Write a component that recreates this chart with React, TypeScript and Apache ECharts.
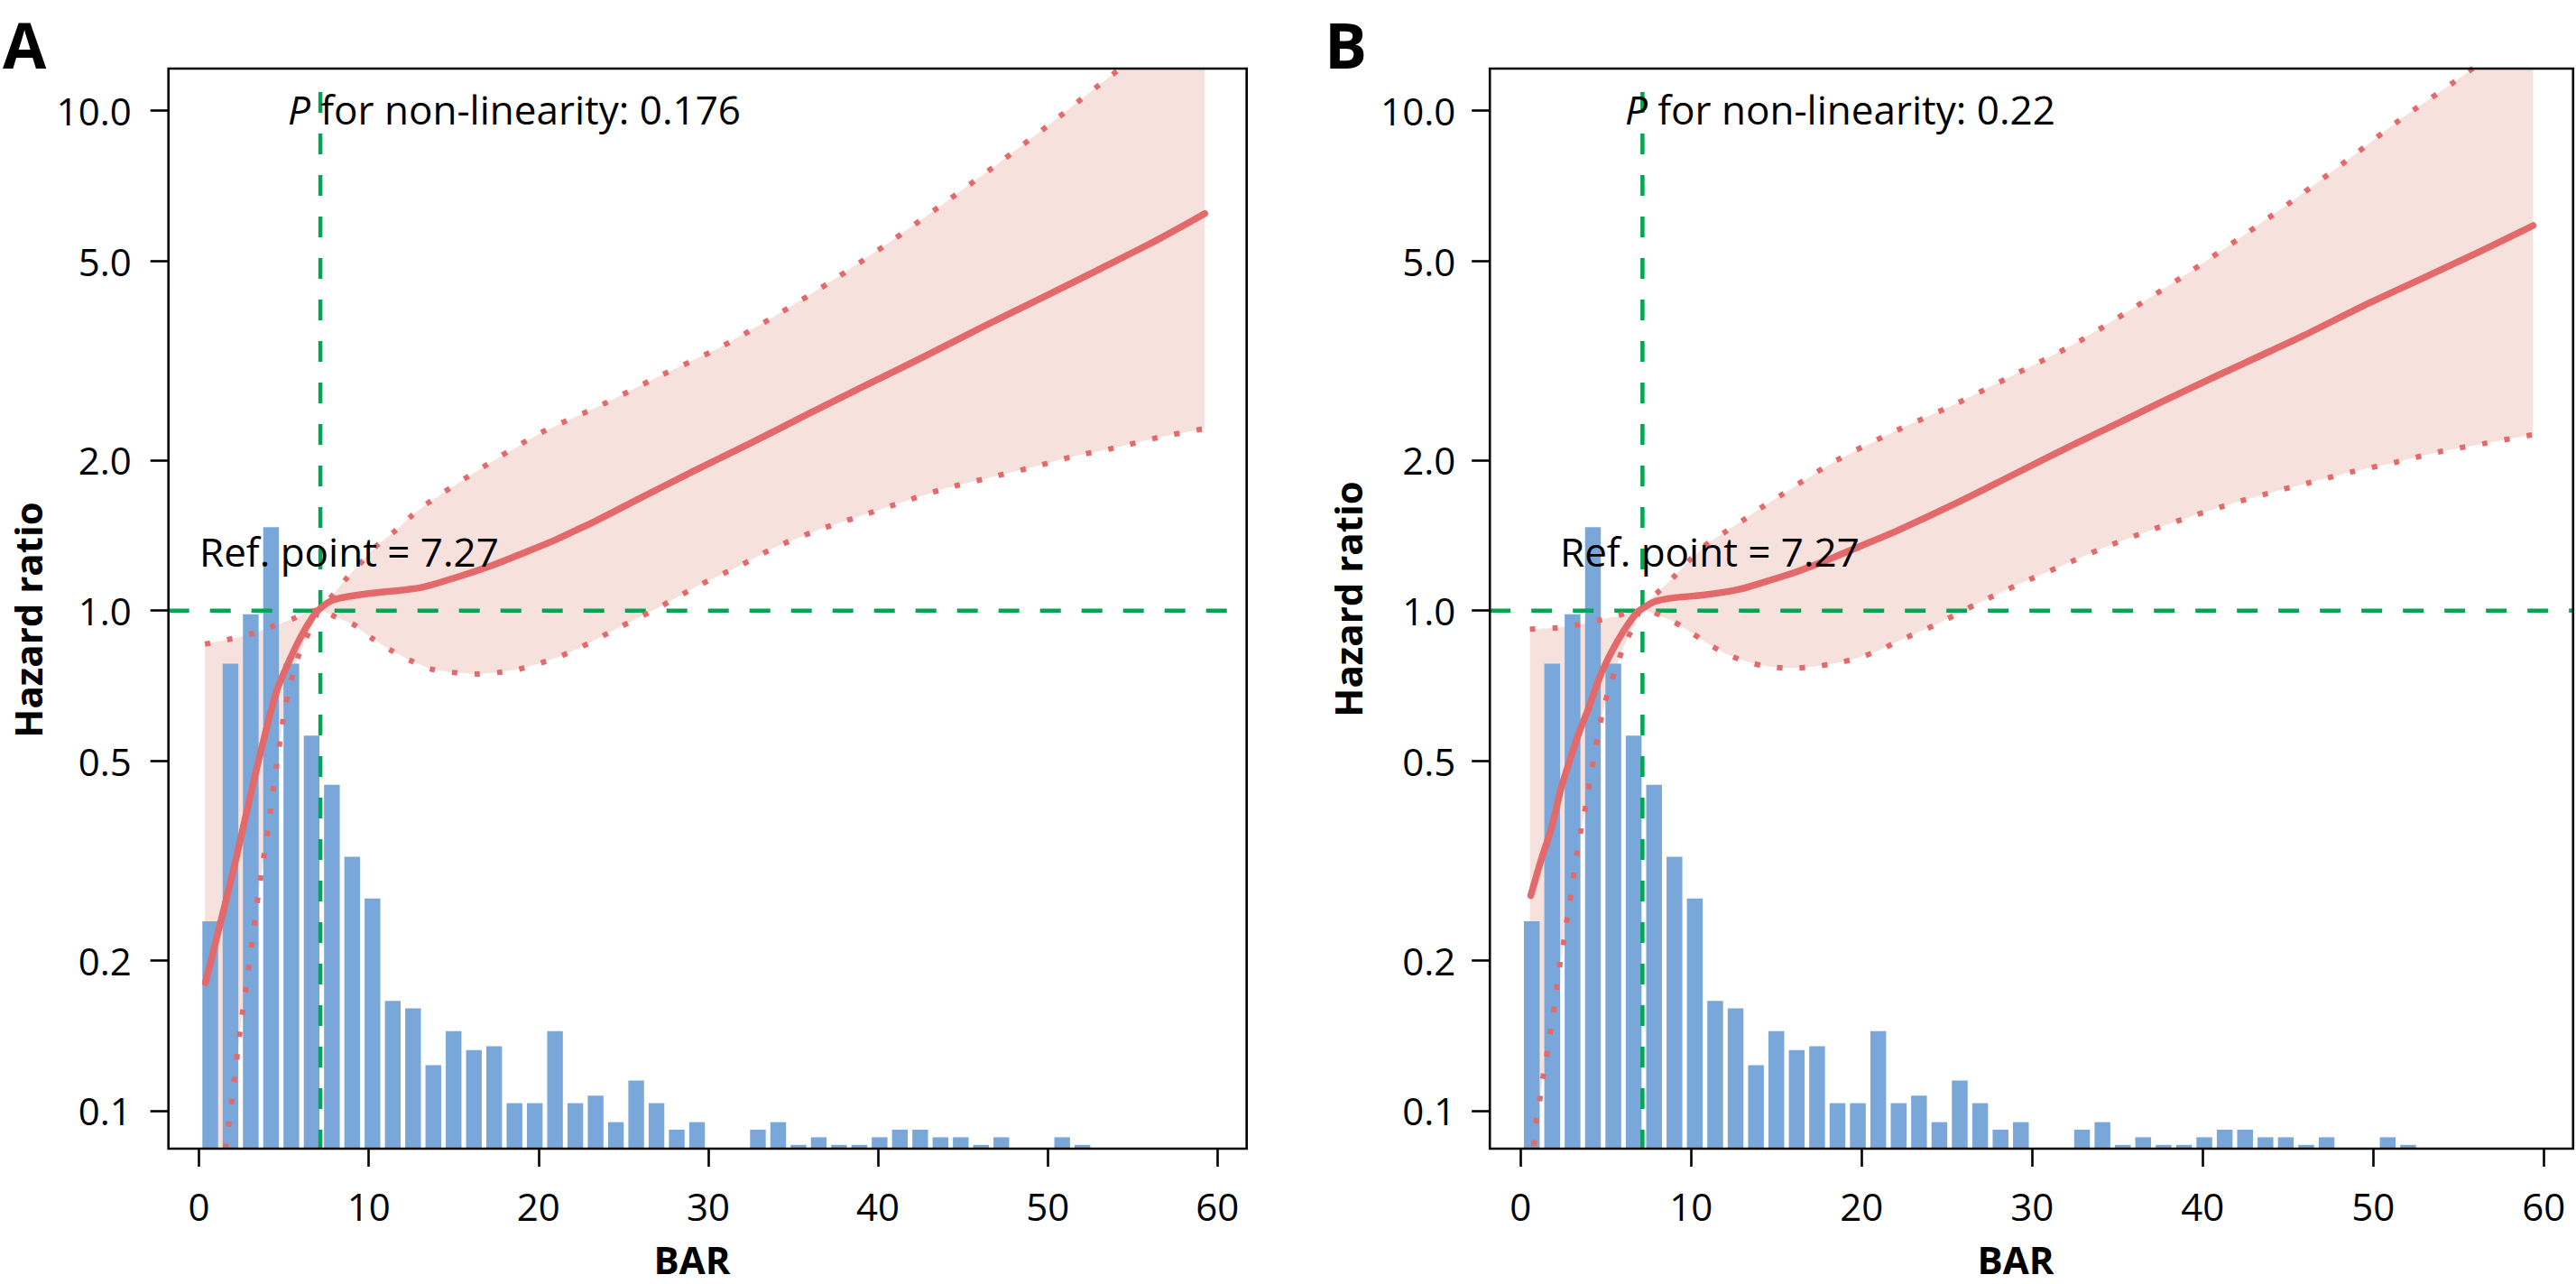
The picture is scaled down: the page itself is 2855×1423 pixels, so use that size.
import React, { useEffect, useRef } from "react";
import * as echarts from "echarts";

// ---------- data ----------
const X_TICKS = [0, 10, 20, 30, 40, 50, 60];
const HR_TICKS = [0.1, 0.2, 0.5, 1.0, 2.0, 5.0, 10.0];

// histogram of BAR (counts per bin), identical in both panels
const BIN_START = 0.0625;
const BIN_WIDTH = 1.195;
const BAR_COUNTS = [
  60, 128, 141, 164, 128, 109, 96, 77, 66, 39, 37, 22, 31, 26, 27, 12, 12, 31, 12, 14,
  7, 18, 12, 5, 7, 0, 0, 5, 7, 1, 3, 1, 1, 3, 5, 5, 3, 3, 1, 3, 0, 0, 3, 1,
];

// curves: [BAR, log10(hazard ratio)]
const A_MAIN: [number, number][] = [
  [0.38, -0.744], [1.37, -0.61], [2.25, -0.486], [3.14, -0.353], [3.85, -0.253], [4.56, -0.162],
  [5.27, -0.104], [5.97, -0.054], [6.69, -0.013], [7.1, 0.003], [7.75, 0.019], [8.46, 0.026],
  [10.23, 0.035], [12.0, 0.041], [13.2, 0.047], [15.31, 0.068], [17.32, 0.091], [19.1, 0.115],
  [20.9, 0.14], [22.16, 0.16], [23.35, 0.179], [25.59, 0.218], [29.02, 0.277], [32.44, 0.334],
  [35.87, 0.393], [39.29, 0.451], [42.72, 0.508], [46.14, 0.567], [49.57, 0.624], [53.0, 0.682],
  [56.43, 0.741], [59.25, 0.794],
];
const A_UPPER: [number, number][] = [
  [0.35, -0.067], [1.98, -0.056], [3.14, -0.046], [4.38, -0.031], [5.62, -0.015], [6.5, -0.002],
  [7.1, 0.003], [7.93, 0.033], [8.63, 0.062], [9.52, 0.095], [10.4, 0.128], [11.47, 0.157],
  [12.54, 0.19], [13.43, 0.214], [16.68, 0.286], [20.11, 0.355], [23.7, 0.411], [27.13, 0.469],
  [30.73, 0.527], [33.98, 0.59], [37.41, 0.662], [40.66, 0.736], [43.74, 0.811], [47.0, 0.892],
  [50.09, 0.972], [53.17, 1.055], [56.3, 1.138], [59.25, 1.219],
];
const A_LOWER: [number, number][] = [
  [0.35, -1.39], [1.0, -1.22], [1.63, -1.057], [1.98, -0.966], [2.43, -0.838], [2.78, -0.751],
  [3.14, -0.659], [3.49, -0.568], [3.85, -0.485], [4.2, -0.403], [4.56, -0.311], [4.91, -0.228],
  [5.27, -0.162], [5.8, -0.096], [6.33, -0.054], [6.8, -0.022], [7.1, 0.003], [8.0, -0.012],
  [9.17, -0.029], [10.17, -0.055], [11.29, -0.079], [12.4, -0.099], [13.6, -0.116], [14.8, -0.123],
  [16.26, -0.127], [17.54, -0.124], [18.74, -0.118], [20.11, -0.105], [21.22, -0.092], [22.5, -0.073],
  [24.73, -0.034], [27.13, 0.007], [29.36, 0.049], [31.76, 0.088], [33.98, 0.127], [36.38, 0.16],
  [38.78, 0.187], [41.17, 0.214], [43.74, 0.242], [46.32, 0.264], [48.89, 0.285], [51.46, 0.308],
  [54.03, 0.326], [56.6, 0.347], [59.25, 0.364],
];

const B_MAIN: [number, number][] = [
  [0.6, -0.57], [1.15, -0.505], [1.85, -0.43], [2.38, -0.355], [2.91, -0.297], [3.44, -0.243],
  [3.97, -0.197], [4.68, -0.13], [5.38, -0.08], [6.08, -0.039], [6.79, -0.005], [7.1, 0.003],
  [7.86, 0.018], [9.09, 0.026], [10.7, 0.031], [12.75, 0.042], [14.38, 0.058], [16.14, 0.077],
  [17.9, 0.1], [20.0, 0.13], [22.09, 0.16], [25.49, 0.214], [28.9, 0.272], [32.3, 0.33],
  [35.7, 0.386], [39.1, 0.442], [42.51, 0.496], [45.91, 0.55], [49.32, 0.608], [52.73, 0.662],
  [56.13, 0.716], [59.37, 0.77],
];
const B_UPPER: [number, number][] = [
  [0.55, -0.037], [2.04, -0.035], [3.26, -0.029], [4.5, -0.02], [5.73, -0.01], [6.61, 0.0],
  [7.1, 0.003], [7.5, 0.02], [8.03, 0.036], [8.92, 0.065], [9.97, 0.103], [11.03, 0.136],
  [11.9, 0.155], [12.97, 0.179], [14.03, 0.204], [15.1, 0.227], [18.34, 0.297], [21.91, 0.358],
  [25.49, 0.413], [28.9, 0.471], [32.47, 0.533], [35.7, 0.6], [39.1, 0.674], [42.34, 0.749],
  [45.41, 0.823], [48.64, 0.905], [51.7, 0.985], [54.94, 1.062], [59.37, 1.175],
];
const B_LOWER: [number, number][] = [
  [0.55, -1.16], [0.89, -1.029], [1.1, -0.985], [1.28, -0.941], [1.51, -0.896], [1.69, -0.854],
  [1.92, -0.808], [2.09, -0.763], [2.25, -0.719], [2.48, -0.675], [2.66, -0.631], [2.87, -0.588],
  [3.06, -0.544], [3.24, -0.501], [3.44, -0.455], [3.71, -0.412], [3.94, -0.367], [4.15, -0.324],
  [4.37, -0.282], [4.6, -0.238], [4.86, -0.195], [5.25, -0.151], [5.65, -0.109], [6.1, -0.068],
  [6.71, -0.026], [7.1, 0.003], [8.74, -0.018], [9.79, -0.039], [10.94, -0.065], [12.09, -0.087],
  [13.33, -0.103], [14.56, -0.112], [15.88, -0.115], [17.2, -0.112], [18.52, -0.105], [19.76, -0.095],
  [21.0, -0.08], [22.15, -0.061], [24.47, -0.026], [26.85, 0.015], [29.23, 0.053], [31.62, 0.088],
  [34.0, 0.123], [36.38, 0.154], [38.94, 0.184], [41.32, 0.21], [43.87, 0.235], [46.26, 0.256],
  [48.81, 0.278], [51.36, 0.297], [53.92, 0.318], [56.47, 0.334], [59.37, 0.352],
];

const REF_LINE_X = 7.15;
const REF_LABEL = "7.27";
const P_VALUES = ["0.176", "0.22"];
const PANEL_LETTERS = ["A", "B"];

// ---------- styling / layout ----------
const X_MIN = -1.8;
const X_MAX = 61.72;
const Y_MIN = -1.076;
const Y_MAX = 1.084;
const COUNT_MAX = 285;
const V_LINE_TOP = 1.037;

const FONT = "Open Sans";
const RED = "#E3696A";
const FILL = "#F7E1DC";
const BLUE = "#79A7DA";
const GREEN = "#00A651";
const BAR_FILL_FRACTION = 0.774;

function clipY(pts: [number, number][], lo: number, hi: number): [number, number][] {
  const out: [number, number][] = [];
  for (let i = 0; i < pts.length; i++) {
    const [x, y] = pts[i];
    if (i > 0) {
      const [px, py] = pts[i - 1];
      const bounds = py < y ? [lo, hi] : [hi, lo];
      for (const b of bounds) {
        if ((py - b) * (y - b) < 0) {
          const t = (b - py) / (y - py);
          out.push([px + t * (x - px), b]);
        }
      }
    }
    out.push([x, Math.min(hi, Math.max(lo, y))]);
  }
  return out;
}

const PANELS = [
  {
    main: A_MAIN, upper: A_UPPER, lower: A_LOWER,
    grid: { left: 186.7, top: 76, width: 1195, height: 1197 },
    yLabelMargin: 41,
    letter: { x: 3, y: 49 },
    pText: { x: 319, y: 121 },
    refText: { x: 221, y: 611 },
    yTitle: { x: 30, y: 687 },
    xTitle: { x: 767, y: 1395 },
  },
  {
    main: B_MAIN, upper: B_UPPER, lower: B_LOWER,
    grid: { left: 1651.2, top: 76, width: 1200.6, height: 1197 },
    yLabelMargin: 38,
    letter: { x: 1468, y: 49 },
    pText: { x: 1801, y: 121 },
    refText: { x: 1729, y: 611 },
    yTitle: { x: 1493, y: 664 },
    xTitle: { x: 2234, y: 1395 },
  },
];

function buildOption() {
  const grids: any[] = [];
  const xAxes: any[] = [];
  const yAxes: any[] = [];
  const series: any[] = [];
  const graphics: any[] = [];
  const logTicks = HR_TICKS.map((v) => Math.log10(v));

  PANELS.forEach((p, i) => {
    grids.push({
      ...p.grid,
      show: true,
      borderColor: "#000",
      borderWidth: 2.6,
      backgroundColor: "transparent",
      z: 10,
      containLabel: false,
    });
    xAxes.push({
      gridIndex: i,
      type: "value",
      position: "bottom",
      min: X_MIN,
      max: X_MAX,
      axisLine: { show: false, onZero: false },
      splitLine: { show: false },
      axisTick: { show: true, inside: false, length: 20, lineStyle: { color: "#000", width: 2.6 }, customValues: X_TICKS },
      axisLabel: {
        customValues: X_TICKS,
        margin: 42,
        fontSize: 42,
        fontFamily: FONT,
        color: "#000",
      },
    });
    yAxes.push({
      gridIndex: i,
      type: "value",
      position: "left",
      min: Y_MIN,
      max: Y_MAX,
      axisLine: { show: false, onZero: false },
      splitLine: { show: false },
      axisTick: { show: true, inside: false, length: 20, lineStyle: { color: "#000", width: 2.6 }, customValues: logTicks },
      axisLabel: {
        customValues: logTicks,
        margin: p.yLabelMargin,
        fontSize: 42,
        fontFamily: FONT,
        color: "#000",
        formatter: (v: number) => Math.pow(10, v).toFixed(1),
      },
    });
    yAxes.push({
      gridIndex: i,
      type: "value",
      position: "right",
      min: 0,
      max: COUNT_MAX,
      show: false,
      axisLine: { show: false, onZero: false },
    });

    const hrAxis = 2 * i;
    const countAxis = 2 * i + 1;

    series.push({
      type: "custom",
      xAxisIndex: i,
      yAxisIndex: hrAxis,
      silent: true,
      z: 1,
      data: [[0, 0]],
      renderItem: (_params: any, api: any) => {
        const up = clipY(p.upper, Y_MIN, Y_MAX).map((q) => api.coord(q));
        const lo = clipY(p.lower, Y_MIN, Y_MAX).map((q) => api.coord(q)).reverse();
        return { type: "polygon", shape: { points: up.concat(lo) }, style: { fill: FILL } };
      },
    });

    series.push({
      type: "custom",
      xAxisIndex: i,
      yAxisIndex: countAxis,
      silent: true,
      z: 2,
      data: BAR_COUNTS.map((c, k) => [BIN_START + k * BIN_WIDTH, BIN_START + (k + 1) * BIN_WIDTH, c]).filter(
        (d) => d[2] > 0
      ),
      renderItem: (_params: any, api: any) => {
        const x0 = api.value(0);
        const x1 = api.value(1);
        const c = api.value(2);
        const p0 = api.coord([x0, 0]);
        const p1 = api.coord([x1, c]);
        const w = p1[0] - p0[0];
        const bw = w * BAR_FILL_FRACTION;
        return {
          type: "rect",
          shape: { x: p0[0] + (w - bw) / 2, y: p1[1], width: bw, height: p0[1] - p1[1] },
          style: { fill: BLUE },
        };
      },
    });

    const dashed = { color: GREEN, width: 4.5, type: [23, 23] };
    series.push({
      type: "line",
      xAxisIndex: i,
      yAxisIndex: hrAxis,
      z: 3,
      silent: true,
      symbol: "none",
      data: [[X_MIN, 0], [X_MAX, 0]],
      lineStyle: dashed,
    });
    series.push({
      type: "line",
      xAxisIndex: i,
      yAxisIndex: hrAxis,
      z: 3,
      silent: true,
      symbol: "none",
      data: [[REF_LINE_X, V_LINE_TOP], [REF_LINE_X, Y_MIN]],
      lineStyle: dashed,
    });

    const dotted = { color: RED, width: 6, type: [6, 19], cap: "butt" };
    [p.upper, p.lower].forEach((d) =>
      series.push({
        type: "line",
        xAxisIndex: i,
        yAxisIndex: hrAxis,
        z: 4,
        silent: true,
        symbol: "none",
        smooth: 0.3,
        clip: true,
        data: d,
        lineStyle: dotted,
      })
    );
    series.push({
      type: "line",
      xAxisIndex: i,
      yAxisIndex: hrAxis,
      z: 5,
      silent: true,
      symbol: "none",
      smooth: 0.3,
      clip: true,
      data: p.main,
      lineStyle: { color: RED, width: 7.5, cap: "round", join: "round" },
    });

    graphics.push(
      {
        type: "text",
        x: p.letter.x,
        y: p.letter.y,
        z: 100,
        style: { text: PANEL_LETTERS[i], fontSize: 70, fontWeight: "bold", fontFamily: FONT, fill: "#000", align: "left", verticalAlign: "middle", lineHeight: 70 },
      },
      {
        type: "text",
        x: p.pText.x,
        y: p.pText.y,
        z: 100,
        style: {
          text: "{i|P} for non-linearity: " + P_VALUES[i],
          fontSize: 44,
          fontFamily: FONT,
          fill: "#000",
          align: "left",
          verticalAlign: "middle",
          rich: { i: { fontStyle: "italic", fontSize: 44, fontFamily: FONT, fill: "#000" } },
        },
      },
      {
        type: "text",
        x: p.refText.x,
        y: p.refText.y,
        z: 100,
        style: { text: "Ref. point = " + REF_LABEL, fontSize: 44, fontFamily: FONT, fill: "#000", align: "left", verticalAlign: "middle" },
      },
      {
        type: "text",
        x: p.yTitle.x,
        y: p.yTitle.y,
        rotation: Math.PI / 2,
        z: 100,
        style: { text: "Hazard ratio", fontSize: 42, fontWeight: "bold", fontFamily: FONT, fill: "#000", align: "center", verticalAlign: "middle", lineHeight: 42 },
      },
      {
        type: "text",
        x: p.xTitle.x,
        y: p.xTitle.y,
        z: 100,
        style: { text: "BAR", fontSize: 42, fontWeight: "bold", fontFamily: FONT, fill: "#000", align: "center", verticalAlign: "middle", lineHeight: 42 },
      }
    );
  });

  return {
    animation: false,
    backgroundColor: "#fff",
    textStyle: { fontFamily: FONT },
    grid: grids,
    xAxis: xAxes,
    yAxis: yAxes,
    series,
    graphic: graphics,
  };
}

export default function App() {
  const ref = useRef<HTMLDivElement>(null);
  useEffect(() => {
    if (!ref.current) return;
    const chart = echarts.init(ref.current, null, { renderer: "svg" });
    chart.setOption(buildOption() as any);
    return () => chart.dispose();
  }, []);
  return (
    <div
      ref={ref}
      style={{ position: "fixed", left: 0, top: 0, width: 2855, height: 1423, background: "#fff" }}
    />
  );
}
